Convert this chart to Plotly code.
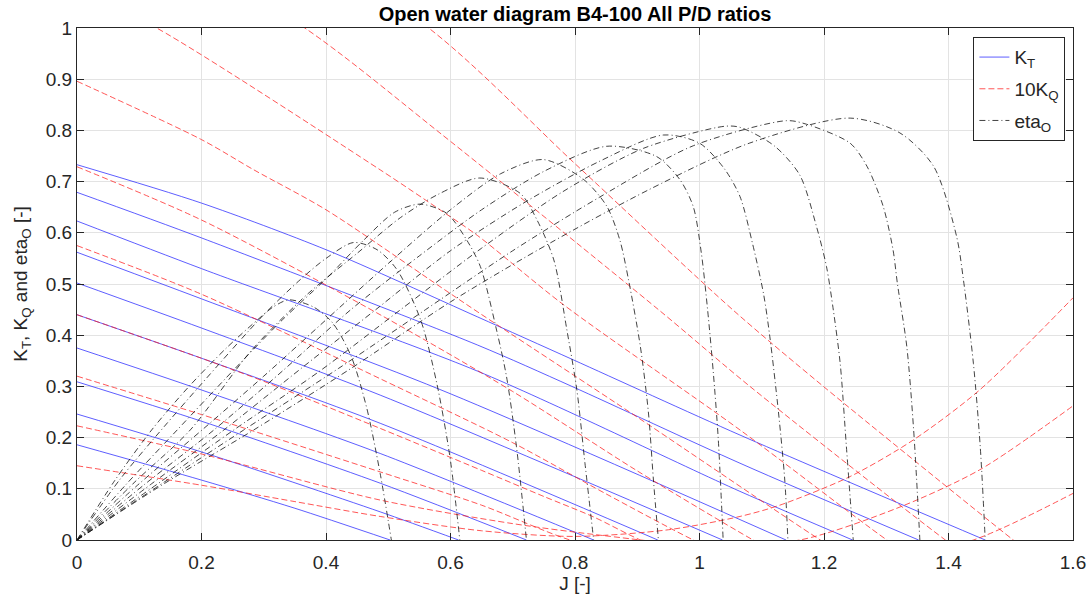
import plotly.graph_objects as go

# P/D ratios of the B4-100 series shown
PD_RATIOS = [0.5, 0.6, 0.7, 0.8, 0.9, 1.0, 1.1, 1.2, 1.3, 1.4]

# Thrust coefficient K_T, one list per P/D
KT_J = [
    [0, 0.2, 0.35, 0.503],
    [0, 0.2, 0.487, 0.613],
    [0, 0.2, 0.487, 0.722],
    [0, 0.2, 0.487, 0.83],
    [0, 0.2, 0.487, 0.933],
    [0, 0.2, 0.487, 1.037],
    [0, 0.2, 0.583, 1.139],
    [0, 0.2, 0.643, 1.065, 1.246],
    [0, 0.2, 0.643, 0.795, 1.065, 1.352],
    [0, 0.2, 0.4, 0.643, 0.797, 1.065, 1.459],
]
KT_VAL = [
    [0.186, 0.117, 0.062, 0.0],
    [0.246, 0.172, 0.055, 0.0],
    [0.309, 0.232, 0.111, 0.0],
    [0.375, 0.293, 0.169, 0.0],
    [0.440, 0.355, 0.228, 0.0],
    [0.502, 0.414, 0.283, 0.0],
    [0.562, 0.471, 0.294, 0.0],
    [0.623, 0.530, 0.330, 0.095, 0.0],
    [0.679, 0.590, 0.381, 0.300, 0.150, 0.0],
    [0.733, 0.658, 0.567, 0.436, 0.352, 0.205, 0.0],
]

# 10*K_Q
KQ_J = [
    [0, 0.2, 0.35, 0.487, 0.65, 0.8, 0.95, 1.065, 1.129, 1.242, 1.343, 1.45, 1.6],
    [0, 0.2, 0.487, 0.7, 0.85, 1.0, 1.161, 1.317, 1.45, 1.6],
    [0, 0.2, 0.487, 0.65, 0.792, 0.95, 1.1, 1.25, 1.44, 1.6],
    [0, 0.2, 0.3, 0.487, 0.65, 0.75, 0.83, 0.905, 1.05, 1.25],
    [0, 0.2, 0.487, 0.7, 0.85, 0.99, 1.15],
    [0, 0.2, 0.487, 0.7, 0.9, 1.086, 1.25],
    [0, 0.2, 0.284, 0.4, 0.583, 0.643, 0.9, 1.194, 1.3],
    [0, 0.128, 0.487, 0.583, 0.643, 0.781, 1.065, 1.301, 1.4],
    [0, 0.366, 0.583, 0.935, 1.081, 1.395, 1.5],
    [0, 0.565, 0.8, 1.054, 1.199, 1.504, 1.6],
]
KQ_VAL = [
    [0.145, 0.107, 0.075, 0.046, 0.018, 0.007, 0.020, 0.046, 0.068, 0.124, 0.195, 0.293, 0.473],
    [0.223, 0.168, 0.078, 0.032, 0.008, -0.010, 0.0, 0.062, 0.137, 0.262],
    [0.320, 0.245, 0.133, 0.068, 0.0, -0.045, -0.062, -0.052, 0.0, 0.091],
    [0.440, 0.355, 0.310, 0.218, 0.136, 0.085, 0.045, 0.0, -0.070, -0.120],
    [0.575, 0.480, 0.315, 0.190, 0.090, 0.0, -0.090],
    [0.729, 0.625, 0.440, 0.290, 0.135, 0.0, -0.110],
    [0.896, 0.782, 0.723, 0.645, 0.495, 0.446, 0.240, 0.0, -0.080],
    [1.075, 1.000, 0.723, 0.645, 0.595, 0.460, 0.215, 0.0, -0.080],
    [1.265, 1.000, 0.795, 0.449, 0.300, 0.0, -0.090],
    [1.450, 1.000, 0.735, 0.449, 0.300, 0.0, -0.090],
]

# Open water efficiency eta_O
ETA_J = [
    [0, 0.06, 0.12, 0.18, 0.24, 0.29, 0.315, 0.34, 0.38, 0.41, 0.44, 0.465, 0.487, 0.505],
    [0, 0.07, 0.139, 0.2, 0.3, 0.36, 0.4, 0.444, 0.482, 0.514, 0.552, 0.578, 0.599, 0.615],
    [0, 0.08, 0.161, 0.25, 0.33, 0.4, 0.46, 0.51, 0.551, 0.594, 0.626, 0.648, 0.674, 0.69, 0.706, 0.722],
    [0, 0.09, 0.182, 0.28, 0.37, 0.45, 0.52, 0.58, 0.647, 0.712, 0.739, 0.766, 0.787, 0.803, 0.816, 0.83],
    [0, 0.1, 0.201, 0.3, 0.4, 0.5, 0.6, 0.68, 0.749, 0.813, 0.851, 0.872, 0.886, 0.905, 0.918, 0.926, 0.934],
    [0, 0.11, 0.22, 0.33, 0.44, 0.55, 0.65, 0.75, 0.851, 0.931, 0.969, 0.99, 1.003, 1.013, 1.022, 1.03, 1.038],
    [0, 0.12, 0.236, 0.36, 0.48, 0.6, 0.72, 0.84, 0.942, 1.0, 1.04, 1.065, 1.085, 1.103, 1.113, 1.127, 1.137, 1.142],
    [0, 0.13, 0.252, 0.39, 0.52, 0.65, 0.78, 0.91, 1.04, 1.065, 1.12, 1.161, 1.188, 1.204, 1.215, 1.226, 1.236, 1.247],
    [0, 0.14, 0.268, 0.42, 0.56, 0.7, 0.84, 0.99, 1.14, 1.172, 1.242, 1.269, 1.295, 1.311, 1.318, 1.333, 1.344, 1.354],
    [0, 0.14, 0.284, 0.44, 0.6, 0.76, 0.92, 1.08, 1.242, 1.322, 1.376, 1.413, 1.424, 1.44, 1.451, 1.459],
]
ETA_VAL = [
    [0, 0.115, 0.215, 0.30, 0.375, 0.43, 0.455, 0.469, 0.455, 0.425, 0.36, 0.26, 0.13, 0],
    [0, 0.12, 0.22, 0.305, 0.44, 0.51, 0.55, 0.581, 0.567, 0.528, 0.43, 0.306, 0.163, 0],
    [0, 0.11, 0.215, 0.33, 0.43, 0.51, 0.585, 0.64, 0.656, 0.638, 0.586, 0.534, 0.41, 0.319, 0.182, 0],
    [0, 0.11, 0.215, 0.37, 0.48, 0.56, 0.63, 0.675, 0.707, 0.677, 0.625, 0.547, 0.41, 0.293, 0.15, 0],
    [0, 0.11, 0.215, 0.32, 0.43, 0.54, 0.645, 0.715, 0.743, 0.705, 0.652, 0.586, 0.508, 0.378, 0.248, 0.117, 0],
    [0, 0.11, 0.215, 0.33, 0.45, 0.555, 0.645, 0.72, 0.769, 0.749, 0.703, 0.651, 0.56, 0.45, 0.33, 0.2, 0],
    [0, 0.11, 0.215, 0.335, 0.45, 0.565, 0.66, 0.74, 0.791, 0.775, 0.725, 0.671, 0.58, 0.48, 0.397, 0.248, 0.117, 0],
    [0, 0.11, 0.215, 0.33, 0.45, 0.57, 0.68, 0.765, 0.808, 0.806, 0.77, 0.713, 0.612, 0.534, 0.449, 0.345, 0.182, 0],
    [0, 0.113, 0.215, 0.335, 0.45, 0.565, 0.67, 0.77, 0.819, 0.812, 0.775, 0.73, 0.652, 0.566, 0.5, 0.378, 0.215, 0],
    [0, 0.11, 0.215, 0.335, 0.465, 0.58, 0.685, 0.775, 0.824, 0.795, 0.73, 0.593, 0.508, 0.345, 0.182, 0],
]

X_TICKS = [0, 0.2, 0.4, 0.6, 0.8, 1, 1.2, 1.4, 1.6]
X_TICK_TEXT = ["0", "0.2", "0.4", "0.6", "0.8", "1", "1.2", "1.4", "1.6"]
Y_TICKS = [0, 0.1, 0.2, 0.3, 0.4, 0.5, 0.6, 0.7, 0.8, 0.9, 1]
Y_TICK_TEXT = ["0", "0.1", "0.2", "0.3", "0.4", "0.5", "0.6", "0.7", "0.8", "0.9", "1"]

FONT = "Liberation Sans, Arial, Helvetica, sans-serif"
BLUE = "rgba(40,40,255,0.75)"
RED = "rgba(255,30,30,0.75)"
BLACK = "rgba(20,20,20,0.8)"

fig = go.Figure()

for i, pd_ in enumerate(PD_RATIOS):
    fig.add_trace(go.Scatter(
        x=KT_J[i], y=KT_VAL[i], mode="lines", name="K<sub>T</sub>",
        legendgroup="kt", showlegend=(i == 0),
        line=dict(color=BLUE, width=1, shape="spline", smoothing=0.8),
        hoverinfo="skip"))
for i, pd_ in enumerate(PD_RATIOS):
    fig.add_trace(go.Scatter(
        x=KQ_J[i], y=KQ_VAL[i], mode="lines", name="10K<sub>Q</sub>",
        legendgroup="kq", showlegend=(i == 0),
        line=dict(color=RED, width=1, dash="6px,3px", shape="spline", smoothing=0.8),
        hoverinfo="skip"))
for i, pd_ in enumerate(PD_RATIOS):
    fig.add_trace(go.Scatter(
        x=ETA_J[i], y=ETA_VAL[i], mode="lines", name="eta<sub>O</sub>",
        legendgroup="eta", showlegend=(i == 0),
        line=dict(color=BLACK, width=1, dash="6px,3px,1px,3px", shape="spline", smoothing=0.8),
        hoverinfo="skip"))

axis_common = dict(
    showline=True, linecolor="#262626", linewidth=1, mirror="ticks",
    ticks="inside", ticklen=7, tickcolor="#262626",
    showgrid=True, gridcolor="#e3e3e3", gridwidth=1, zeroline=False,
    automargin=False,
    tickfont=dict(family=FONT, size=19, color="#262626"),
)

fig.update_xaxes(range=[0, 1.6], tickvals=X_TICKS, ticktext=X_TICK_TEXT,
                 ticklabelstandoff=5,
                 title=dict(text="J [-]", font=dict(family=FONT, size=19, color="#262626"), standoff=4),
                 **axis_common)
fig.update_yaxes(range=[0, 1], tickvals=Y_TICKS, ticktext=Y_TICK_TEXT,
                 title=dict(text="K<sub>T</sub>, K<sub>Q</sub> and eta<sub>O</sub> [-]",
                            font=dict(family=FONT, size=19, color="#262626"), standoff=13),
                 **axis_common)

fig.update_layout(
    width=1092, height=603,
    margin=dict(l=77, r=19, t=28, b=63, autoexpand=False),
    paper_bgcolor="white", plot_bgcolor="white",
    title=dict(text="<b>Open water diagram B4-100 All P/D ratios</b>",
               x=0.5, xref="paper", xanchor="center",
               y=1 - 14 / 603, yref="container", yanchor="middle",
               font=dict(family=FONT, size=20, color="black")),
    legend=dict(x=0.9, y=0.982, xanchor="left", yanchor="top",
                bgcolor="white", bordercolor="#262626", borderwidth=1,
                font=dict(family=FONT, size=19, color="#262626"),
                tracegroupgap=4, itemwidth=30),
    showlegend=True,
)

fig.write_html("out.html")
